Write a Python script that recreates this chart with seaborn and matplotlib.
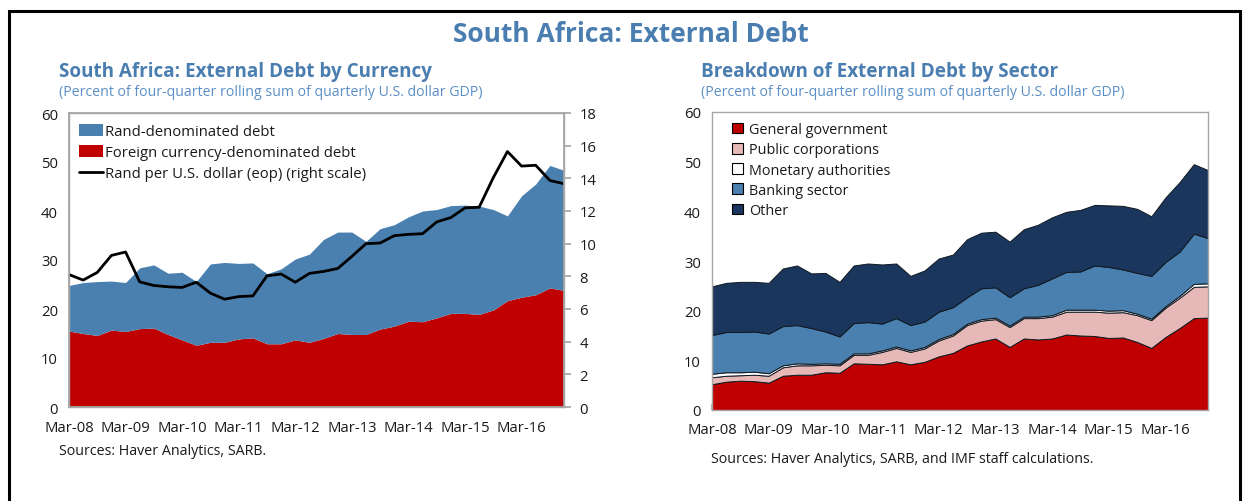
import numpy as np
import matplotlib
matplotlib.use("Agg")
import matplotlib.pyplot as plt
from matplotlib.patches import Rectangle, Patch
from matplotlib.lines import Line2D
import seaborn as sns
import pandas as pd

# ---------------- data ----------------
quarters = pd.period_range("2008Q1", "2016Q4", freq="Q")
tick_labels = ["Mar-08", "Mar-09", "Mar-10", "Mar-11", "Mar-12",
               "Mar-13", "Mar-14", "Mar-15", "Mar-16"]

# Left panel: external debt by currency (% of GDP)
foreign_currency = [15.5, 15.0, 14.6, 15.7, 15.4, 16.0, 16.1, 14.8, 13.7, 12.6, 13.2, 13.2,
                    13.9, 14.1, 12.9, 12.9, 13.7, 13.2, 14.0, 15.0, 14.8, 14.8, 15.9, 16.5,
                    17.5, 17.4, 18.2, 19.1, 19.1, 18.9, 19.8, 21.7, 22.4, 22.9, 24.3, 23.8]
rand_denominated = [9.3, 10.4, 11.0, 10.0, 10.0, 12.4, 12.9, 12.5, 13.8, 13.0, 16.0, 16.3,
                    15.4, 15.3, 14.3, 15.3, 16.5, 18.0, 20.2, 20.7, 20.9, 19.0, 20.5, 20.7,
                    21.3, 22.6, 22.1, 22.0, 22.1, 22.1, 20.5, 17.3, 20.7, 22.6, 25.0, 24.5]
rand_per_usd = [8.11, 7.77, 8.24, 9.28, 9.49, 7.66, 7.44, 7.36, 7.32, 7.64, 6.97, 6.60,
                6.76, 6.80, 8.03, 8.14, 7.64, 8.18, 8.30, 8.48, 9.22, 10.0, 10.04, 10.49,
                10.57, 10.61, 11.33, 11.6, 12.19, 12.23, 14.04, 15.64, 14.75, 14.8, 13.87, 13.67]

# Right panel: external debt by sector (% of GDP)
general_government = [5.2, 5.7, 5.9, 5.8, 5.5, 6.9, 7.1, 7.1, 7.6, 7.5, 9.4, 9.3,
                      9.2, 9.8, 9.2, 9.7, 10.8, 11.5, 13.0, 13.8, 14.4, 12.7, 14.4, 14.2,
                      14.4, 15.2, 15.0, 14.9, 14.5, 14.6, 13.7, 12.5, 14.7, 16.5, 18.5, 18.6]
public_corporations = [1.4, 1.2, 1.1, 1.3, 1.4, 1.7, 1.9, 1.9, 1.5, 1.5, 1.7, 1.8,
                       2.5, 2.7, 2.5, 2.7, 3.2, 3.5, 4.1, 4.2, 3.9, 4.0, 4.1, 4.3,
                       4.4, 4.6, 4.8, 4.9, 5.1, 5.1, 5.4, 5.6, 5.9, 6.1, 6.3, 6.3]
monetary_authorities = [0.7, 0.7, 0.6, 0.6, 0.5, 0.4, 0.4, 0.3, 0.3, 0.3, 0.3, 0.3,
                        0.3, 0.3, 0.3, 0.3, 0.3, 0.3, 0.3, 0.3, 0.3, 0.3, 0.3, 0.3,
                        0.3, 0.4, 0.4, 0.4, 0.4, 0.4, 0.3, 0.3, 0.3, 0.4, 0.6, 0.6]
banking_sector = [7.8, 8.1, 8.1, 8.1, 8.0, 7.9, 7.7, 7.2, 6.4, 5.5, 6.1, 6.3,
                  5.4, 5.7, 5.1, 5.1, 5.5, 5.4, 5.3, 6.2, 6.1, 5.7, 5.7, 6.4,
                  7.4, 7.6, 7.7, 8.9, 8.8, 8.2, 8.2, 8.6, 8.9, 8.9, 10.1, 9.1]
other = [9.8, 9.9, 10.1, 10.0, 10.2, 11.6, 12.0, 11.0, 11.8, 11.0, 11.6, 11.8,
         11.9, 11.0, 9.9, 10.3, 10.7, 10.6, 11.7, 11.2, 11.2, 11.2, 11.9, 12.1,
         12.3, 12.1, 12.4, 12.2, 12.4, 12.8, 12.9, 12.0, 13.0, 14.0, 14.0, 13.7]

# ---------------- style ----------------
sns.set_theme(style="white")
FONT = ["Open Sans", "DejaVu Sans"]
plt.rcParams["font.family"] = FONT

TITLE_C = "#4a7db0"
SUB_C = "#5b8fc6"
RED = "#c00000"
BLUE = "#4a80b0"
NAVY = "#1b365c"
PINK = "#e6b9b8"
SPINE = "#a6a6a6"
TXT = "#1a1a1a"

W, H = 1244, 502
fig = plt.figure(figsize=(W / 100, H / 100), dpi=100)

def rect(l, r, t, b):
    return [l / W, 1 - b / H, (r - l) / W, (b - t) / H]

x = np.arange(len(quarters))
tick_pos = x[::4]

def style_axes(ax):
    for s in ax.spines.values():
        s.set_color(SPINE)
        s.set_linewidth(1.0)
    ax.set_xlim(0, len(x) - 1)
    ax.set_xticks(tick_pos)
    ax.set_xticklabels(tick_labels)
    ax.tick_params(axis="x", direction="in", length=4, color=SPINE, pad=9,
                   labelsize=10.7, labelcolor=TXT, bottom=True)
    ax.tick_params(axis="y", length=0, pad=8, labelsize=10.7, labelcolor=TXT, left=True)
    ax.set_ylim(0, 60)
    ax.set_yticks(range(0, 61, 10))
    ax.grid(False)

# ---------- left panel ----------
ax1 = fig.add_axes(rect(69, 564, 114, 408))
ax1.stackplot(x, foreign_currency, rand_denominated, colors=[RED, BLUE], linewidth=0)
style_axes(ax1)
ax1.set_xlabel("")
ax1.set_ylabel("")

ax1r = ax1.twinx()
df_rand = pd.DataFrame({"q": x, "rate": rand_per_usd})
sns.lineplot(data=df_rand, x="q", y="rate", ax=ax1r, color="black", linewidth=2.0)
ax1r.set_ylim(0, 18)
ax1r.set_yticks(range(0, 19, 2))
ax1r.set_xlim(0, len(x) - 1)
ax1r.set_ylabel("")
ax1r.set_xlabel("")
ax1r.tick_params(axis="y", direction="out", length=5, color=SPINE, pad=6,
                 labelsize=10.7, labelcolor=TXT, right=True)
for s in ax1r.spines.values():
    s.set_color(SPINE)
ax1r.grid(False)

h1 = [Patch(facecolor=BLUE, edgecolor="none"),
      Patch(facecolor=RED, edgecolor="none"),
      Line2D([0], [0], color="black", lw=2)]
l1 = ["Rand-denominated debt", "Foreign currency-denominated debt",
      "Rand per U.S. dollar (eop) (right scale)"]
leg1 = ax1r.legend(h1, l1, loc="upper left", bbox_to_anchor=(0.0, 0.998),
                   frameon=False, fontsize=10.7, handlelength=1.6, handleheight=0.9,
                   handletextpad=0.15, labelspacing=0.38, borderaxespad=0.3)
for t in leg1.get_texts():
    t.set_color(TXT)

# ---------- right panel ----------
ax2 = fig.add_axes(rect(712, 1208, 113, 411))
ax2.stackplot(x, general_government, public_corporations, monetary_authorities,
              banking_sector, other,
              colors=[RED, PINK, "white", BLUE, NAVY],
              edgecolor="#101820", linewidth=0.7)
style_axes(ax2)

h2 = [Patch(facecolor=c, edgecolor="black", linewidth=0.8)
      for c in [RED, PINK, "white", BLUE, NAVY]]
l2 = ["General government", "Public corporations", "Monetary authorities",
      "Banking sector", "Other"]
leg2 = ax2.legend(h2, l2, loc="upper left", bbox_to_anchor=(0.02, 1.0),
                  frameon=False, fontsize=10.4, handlelength=0.75, handleheight=0.75,
                  handletextpad=0.4, labelspacing=0.36, borderaxespad=0.3)
for t in leg2.get_texts():
    t.set_color(TXT)

# ---------- titles / notes ----------
fig.text(631 / W, 1 - 35 / H, "South Africa: External Debt", ha="center", va="center",
         fontsize=19, fontweight="bold", color=TITLE_C)
fig.text(59 / W, 1 - 72 / H, "South Africa: External Debt by Currency", ha="left",
         va="center", fontsize=13.6, fontweight="bold", color=TITLE_C)
fig.text(59 / W, 1 - 92 / H, "(Percent of four-quarter rolling sum of quarterly U.S. dollar GDP)",
         ha="left", va="center", fontsize=10.2, color=SUB_C)
fig.text(701 / W, 1 - 72 / H, "Breakdown of External Debt by Sector", ha="left",
         va="center", fontsize=13.6, fontweight="bold", color=TITLE_C)
fig.text(701 / W, 1 - 92 / H, "(Percent of four-quarter rolling sum of quarterly U.S. dollar GDP)",
         ha="left", va="center", fontsize=10.2, color=SUB_C)
fig.text(59 / W, 1 - 452 / H, "Sources: Haver Analytics, SARB.", ha="left", va="center",
         fontsize=10.3, color=TXT)
fig.text(711 / W, 1 - 460 / H, "Sources: Haver Analytics, SARB, and IMF staff calculations.",
         ha="left", va="center", fontsize=10.3, color=TXT)

# outer frame
fig.patches.append(Rectangle((9 / W, -0.2), (1240 - 9) / W, 1.2 - 12 / H,
                             transform=fig.transFigure, fill=False,
                             edgecolor="black", linewidth=2.2, zorder=0))

fig.savefig("out.png", dpi=100)
